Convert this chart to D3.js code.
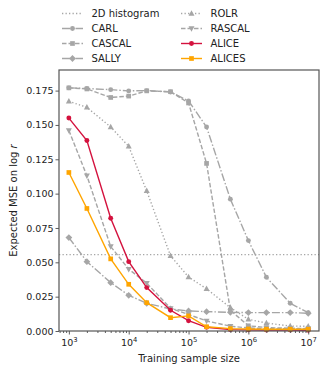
<!DOCTYPE html>
<html>
<head>
<meta charset="utf-8">
<script src="https://cdn.jsdelivr.net/npm/d3@7"></script>
<style>
  body { margin: 0; background: #fff; }
  text { font-family: "DejaVu Sans", sans-serif; fill: #222; }
</style>
</head>
<body>
<div id="chart"></div>
<script>
// Data
var sampleSizes = [1e3, 2e3, 5e3, 1e4, 2e4, 5e4, 1e5, 2e5, 5e5, 1e6, 2e6, 5e6, 1e7];
var histogram2d = 0.0556;
var carl   = [0.1770, 0.1765, 0.1757, 0.1748, 0.1750, 0.1740, 0.1675, 0.1485, 0.0960, 0.0658, 0.0391, 0.0202, 0.0133];
var cascal = [0.1770, 0.1762, 0.1700, 0.1710, 0.1748, 0.1742, 0.1660, 0.1220, 0.0150, 0.0038, 0.0025, 0.0020, 0.0018];
var sally  = [0.0680, 0.0505, 0.0352, 0.0260, 0.0202, 0.0160, 0.0146, 0.0141, 0.0136, 0.0134, 0.0134, 0.0134, 0.0129];
var rolr   = [0.1672, 0.1628, 0.1485, 0.1344, 0.1020, 0.0547, 0.0393, 0.0307, 0.0170, 0.0085, 0.0058, 0.0036, 0.0034];
var rascal = [0.1460, 0.1130, 0.0615, 0.0450, 0.0348, 0.0165, 0.0120, 0.0073, 0.0035, 0.0022, 0.0018, 0.0016, 0.0015];
var alice  = [0.1550, 0.1387, 0.0821, 0.0505, 0.0316, 0.0151, 0.0075, 0.0027, 0.0010, 0.0008, 0.0007, 0.0007, 0.0006];
var alices = [0.1154, 0.0892, 0.0525, 0.0340, 0.0206, 0.0097, 0.0110, 0.0031, 0.0017, 0.0015, 0.0013, 0.0013, 0.0013];
var yTicks = [0, 0.025, 0.05, 0.075, 0.1, 0.125, 0.15, 0.175];
var xTicks = [1e3, 1e4, 1e5, 1e6, 1e7];

var grey = "#a6a6a6";
var series = [
  {name: "CARL",   values: carl,   color: grey, dash: "8,2,1.5,2", marker: "circle"},
  {name: "CASCAL", values: cascal, color: grey, dash: "4.5,2",     marker: "square"},
  {name: "SALLY",  values: sally,  color: grey, dash: "8,2,1.5,2", marker: "diamond"},
  {name: "ROLR",   values: rolr,   color: grey, dash: "1.3,2.2",   marker: "tri-up"},
  {name: "RASCAL", values: rascal, color: grey, dash: "4.5,2",     marker: "tri-down"},
  {name: "ALICE",  values: alice,  color: "#d4123e", dash: null,   marker: "circle"},
  {name: "ALICES", values: alices, color: "#ffa500", dash: null,   marker: "square"}
];

var svgWidth = 332, svgHeight = 379;
var margin = {top: 70, right: 13, bottom: 48, left: 59};
var width = svgWidth - margin.left - margin.right;
var height = svgHeight - margin.top - margin.bottom;

var svg = d3.select("#chart").append("svg")
  .attr("width", svgWidth)
  .attr("height", svgHeight);

var chartGroup = svg.append("g")
  .attr("transform", `translate(${margin.left}, ${margin.top})`);

var xScale = d3.scaleLog()
  .domain([Math.pow(10, 2.835), Math.pow(10, 7.18)])
  .range([0, width]);

var yScale = d3.scaleLinear()
  .domain([0, 0.19])
  .range([height, 0]);

function markerPath(type) {
  if (type == "circle") return d3.symbol(d3.symbolCircle, 19)();
  if (type == "square") return d3.symbol(d3.symbolSquare, 22)();
  if (type == "diamond") return "M0,-3.4L3.4,0L0,3.4L-3.4,0Z";
  if (type == "tri-up") return "M0,-3.3L3,2.2L-3,2.2Z";
  return "M0,3.3L3,-2.2L-3,-2.2Z";
}

// 2D histogram reference line
chartGroup.append("line")
  .attr("x1", 0).attr("x2", width)
  .attr("y1", yScale(histogram2d)).attr("y2", yScale(histogram2d))
  .attr("stroke", grey)
  .attr("stroke-width", 1.3)
  .attr("stroke-dasharray", "1.3,2.2");

var line = d3.line()
  .x((d, i) => xScale(sampleSizes[i]))
  .y(d => yScale(d));

series.forEach(function (s) {
  chartGroup.append("path")
    .datum(s.values)
    .attr("d", line)
    .attr("fill", "none")
    .attr("stroke", s.color)
    .attr("stroke-width", 1.4)
    .attr("stroke-dasharray", s.dash);

  chartGroup.append("g").selectAll("path")
    .data(s.values)
    .enter()
    .append("path")
    .attr("d", markerPath(s.marker))
    .attr("transform", (d, i) => `translate(${xScale(sampleSizes[i])},${yScale(d)})`)
    .attr("fill", s.color);
});

// Axes
var bottomAxis = d3.axisBottom(xScale)
  .tickValues(xTicks)
  .tickSize(3.5)
  .tickFormat("");
var minorTicks = [];
for (var e = 2; e <= 7; e++) {
  for (var m = 1; m <= 9; m++) {
    var v = m * Math.pow(10, e);
    if (m > 1 && v > xScale.domain()[0] && v < xScale.domain()[1]) minorTicks.push(v);
  }
}
var minorAxis = d3.axisBottom(xScale)
  .tickValues(minorTicks)
  .tickSize(2)
  .tickFormat("");
var leftAxis = d3.axisLeft(yScale)
  .tickValues(yTicks)
  .tickSize(3.5)
  .tickFormat(d3.format(".3f"));

var xAxisG = chartGroup.append("g")
  .attr("transform", `translate(0,${height})`)
  .call(bottomAxis);
chartGroup.append("g")
  .attr("transform", `translate(0,${height})`)
  .call(minorAxis)
  .call(g => g.select(".domain").remove());

xAxisG.selectAll(".tick").each(function (d) {
  var t = d3.select(this).append("text")
    .attr("y", 15)
    .attr("text-anchor", "middle")
    .style("font-size", "9.5px")
    .attr("fill", "#222");
  t.append("tspan").text("10");
  t.append("tspan").attr("dy", -4).style("font-size", "6.8px").text(Math.round(Math.log10(d)));
});

var yAxisG = chartGroup.append("g").call(leftAxis);
yAxisG.selectAll("text").style("font-size", "9.5px").attr("x", -5.5);

chartGroup.selectAll(".domain").remove();
chartGroup.selectAll(".tick line").attr("stroke", "#333").attr("stroke-width", 0.8);

// Frame
chartGroup.append("rect")
  .attr("width", width)
  .attr("height", height)
  .attr("fill", "none")
  .attr("stroke", "#555")
  .attr("stroke-width", 1.2);

// Axis labels
chartGroup.append("text")
  .attr("x", width / 2)
  .attr("y", height + 31)
  .attr("text-anchor", "middle")
  .style("font-size", "10px")
  .text("Training sample size");

var yLabel = chartGroup.append("text")
  .attr("transform", "rotate(-90)")
  .attr("x", -height / 2)
  .attr("y", -46)
  .attr("dy", "0.35em")
  .attr("text-anchor", "middle")
  .style("font-size", "10px");
yLabel.append("tspan").text("Expected MSE on log ");
yLabel.append("tspan").style("font-style", "italic").text("r");

// Legend, two columns of four
var legendItems = [{name: "2D histogram", color: grey, dash: "1.3,2.2", marker: null}].concat(series);
var legend = svg.append("g");
legendItems.forEach(function (s, i) {
  var col = Math.floor(i / 4), row = i % 4;
  var x0 = col == 0 ? 62 : 181;
  var y0 = 13.5 + row * 15;
  var g = legend.append("g").attr("transform", `translate(${x0},${y0})`);
  g.append("line")
    .attr("x1", 0).attr("x2", 21)
    .attr("stroke", s.color)
    .attr("stroke-width", 1.4)
    .attr("stroke-dasharray", s.dash);
  if (s.marker) {
    g.append("path")
      .attr("d", markerPath(s.marker))
      .attr("transform", "translate(10.5,0)")
      .attr("fill", s.color);
  }
  g.append("text")
    .attr("x", 29.5)
    .attr("dy", "0.35em")
    .style("font-size", "10px")
    .text(s.name);
});
</script>
</body>
</html>
